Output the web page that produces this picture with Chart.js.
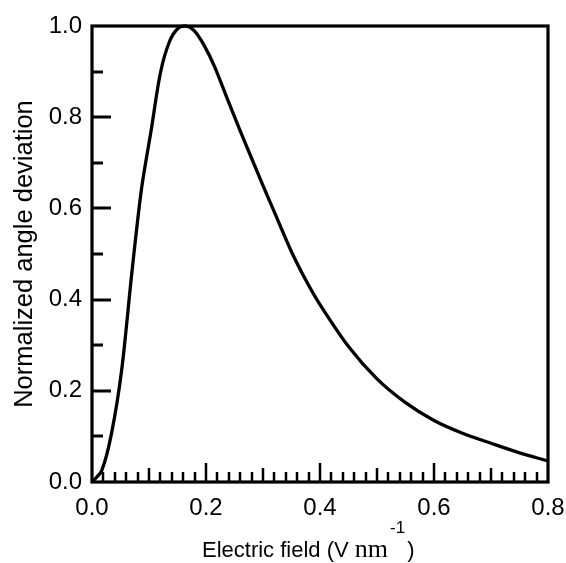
<!DOCTYPE html>
<html>
<head>
<meta charset="utf-8">
<script src="https://cdn.jsdelivr.net/npm/chart.js@4/dist/chart.umd.min.js"></script>
<style>
    body { margin: 0; background: #fff; }
    #wrap { width: 566px; height: 563px; }
</style>
</head>
<body>
<div id="wrap"><canvas id="fieldChart" width="566" height="563"></canvas></div>
<script>
// Values
const fieldValues = [0, 0.017, 0.034, 0.052, 0.07, 0.087, 0.104, 0.12, 0.136, 0.152, 0.165,
    0.18, 0.197, 0.215, 0.235, 0.26, 0.28, 0.3, 0.32, 0.35, 0.375, 0.4, 0.45, 0.5, 0.55, 0.6,
    0.65, 0.7, 0.75, 0.8];
const deviationValues = [0, 0.025, 0.105, 0.245, 0.46, 0.644, 0.773, 0.897, 0.966, 0.996, 1.0,
    0.989, 0.957, 0.911, 0.848, 0.770, 0.710, 0.650, 0.592, 0.505, 0.443, 0.389, 0.297, 0.226, 0.174, 0.135,
    0.107, 0.085, 0.064, 0.046];
const xTickLabels = ['0.0', '0.2', '0.4', '0.6', '0.8'];
const yTickLabels = ['0.0', '0.2', '0.4', '0.6', '0.8', '1.0'];

const sansFont = '"Liberation Sans", Arial, Helvetica, sans-serif';
const serifFont = '"Liberation Serif", "Times New Roman", serif';

// frame, inward tick marks and axis titles
const framePlugin = {
    id: 'frame',
    afterDraw(chart) {
        const ctx = chart.ctx;
        const { left, right, top, bottom } = chart.chartArea;
        const xs = chart.scales.x;
        const ys = chart.scales.y;
        ctx.save();
        ctx.strokeStyle = '#000';

        // x ticks: every 0.02, longer at 0.1 and 0.2
        ctx.lineWidth = 2.5;
        for (let i = 1; i < 40; i++) {
            const px = Math.round(xs.getPixelForValue(i * 0.02));
            const len = i % 10 === 0 ? 19 : (i % 5 === 0 ? 14 : 10);
            ctx.beginPath();
            ctx.moveTo(px, bottom);
            ctx.lineTo(px, bottom - len);
            ctx.stroke();
        }

        // y ticks: every 0.1, longer at 0.2
        ctx.lineWidth = 3;
        for (let j = 1; j < 10; j++) {
            const py = Math.round(ys.getPixelForValue(j * 0.1));
            const len = j % 2 === 0 ? 19 : 11;
            ctx.beginPath();
            ctx.moveTo(left, py);
            ctx.lineTo(left + len, py);
            ctx.stroke();
        }

        ctx.lineWidth = 3.2;
        ctx.strokeRect(left, top, right - left, bottom - top);

        // y title
        ctx.fillStyle = '#000';
        ctx.save();
        ctx.translate(32, 254);
        ctx.rotate(-Math.PI / 2);
        ctx.font = '25.5px ' + sansFont;
        ctx.textAlign = 'center';
        ctx.textBaseline = 'alphabetic';
        ctx.fillText('Normalized angle deviation', 0, 0);
        ctx.restore();

        // x title with superscript
        ctx.textAlign = 'left';
        ctx.textBaseline = 'alphabetic';
        let x = 202;
        const base = 557;
        ctx.font = '22px ' + sansFont;
        ctx.fillText('Electric field (V ', x, base);
        x += ctx.measureText('Electric field (V ').width;
        ctx.font = '26px ' + serifFont;
        ctx.fillText('nm', x, base);
        x += ctx.measureText('nm').width + 2;
        ctx.font = '17px ' + sansFont;
        ctx.fillText('-1', x, base - 24);
        x += ctx.measureText('-1').width + 2;
        ctx.font = '22px ' + sansFont;
        ctx.fillText(')', x, base);
        ctx.restore();
    }
};

new Chart(document.getElementById('fieldChart'), {
    type: 'line',
    data: {
        datasets: [{
            data: fieldValues.map((v, i) => ({ x: v, y: deviationValues[i] })),
            borderColor: '#000',
            borderWidth: 3.3,
            pointRadius: 0,
            fill: false,
            tension: 0.3,
            clip: false
        }]
    },
    options: {
        responsive: false,
        animation: false,
        layout: { padding: { top: 26, right: 18, left: 0, bottom: 0 } },
        plugins: {
            legend: { display: false },
            tooltip: { enabled: false }
        },
        scales: {
            x: {
                type: 'linear',
                min: 0,
                max: 0.8,
                grid: { display: false, drawTicks: false },
                border: { display: false },
                ticks: {
                    stepSize: 0.2,
                    padding: 12,
                    color: '#000',
                    font: { family: sansFont, size: 24 },
                    callback: (v, i) => xTickLabels[i]
                },
                afterFit: scale => {
                    scale.height = 81;
                    scale.paddingLeft = 0;
                    scale.paddingRight = 0;
                }
            },
            y: {
                min: 0,
                max: 1,
                grid: { display: false, drawTicks: false },
                border: { display: false },
                ticks: {
                    stepSize: 0.2,
                    padding: 10,
                    color: '#000',
                    font: { family: sansFont, size: 24 },
                    callback: (v, i) => yTickLabels[i]
                },
                afterFit: scale => {
                    scale.width = 92;
                    scale.paddingTop = 0;
                    scale.paddingBottom = 0;
                }
            }
        }
    },
    plugins: [framePlugin]
});
</script>
</body>
</html>
